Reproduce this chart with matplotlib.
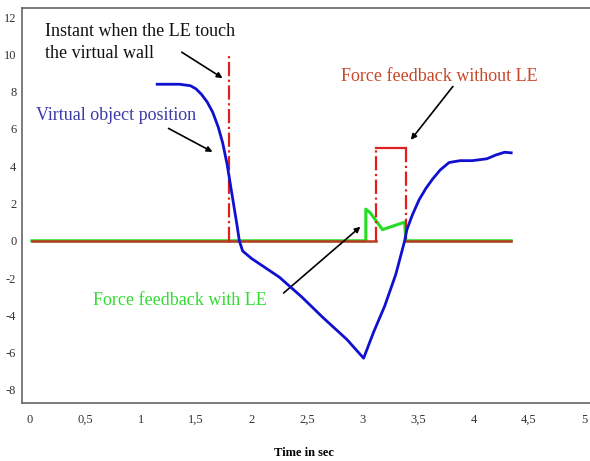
import matplotlib
matplotlib.use('Agg')
import matplotlib.pyplot as plt
from matplotlib.ticker import FuncFormatter

plt.rcParams['font.family'] = ['Liberation Serif', 'DejaVu Serif']
plt.rcParams['axes.unicode_minus'] = False

# virtual object position (blue)
pos_t = [1.15, 1.35, 1.45, 1.50, 1.55, 1.60, 1.65, 1.70, 1.74, 1.78, 1.81, 1.84,
         1.87, 1.89, 1.92, 2.00, 2.25, 2.45, 2.64, 2.86, 3.01, 3.10, 3.20, 3.30,
         3.38, 3.40, 3.45, 3.51, 3.57, 3.63, 3.70, 3.78, 3.88, 3.99, 4.12, 4.20,
         4.28, 4.34]
pos_y = [8.4, 8.4, 8.32, 8.15, 7.85, 7.45, 6.9, 6.1, 5.25, 4.1, 3.0, 1.9,
         0.8, 0.0, -0.55, -0.95, -1.95, -3.0, -4.1, -5.3, -6.3, -4.9, -3.5, -1.8,
         0.0, 0.6, 1.4, 2.2, 2.8, 3.3, 3.8, 4.2, 4.3, 4.3, 4.4, 4.6,
         4.75, 4.72]

# force feedback without LE (red)
red_t = [0.02, 1.80, 1.80, 1.80, 3.12, 3.12, 3.39, 3.39, 4.34]
red_y = [0, 0, 10, 0, 0, 5, 5, 0, 0]

# force feedback with LE (green)
green_t = [0.02, 3.03, 3.03, 3.07, 3.18, 3.38, 3.39, 4.34]
green_y = [0, 0, 1.7, 1.5, 0.6, 1.0, 0, 0]

x_ticks = [0, 0.5, 1, 1.5, 2, 2.5, 3, 3.5, 4, 4.5, 5]
y_ticks = [-8, -6, -4, -2, 0, 2, 4, 6, 8, 10, 12]

fig = plt.figure(figsize=(5.9, 4.61), dpi=100)
ax = fig.add_axes([0.037, 0.126, 0.963, 0.857])

red = '#e02020'
ax.plot(green_t, green_y, color='#22dd22', lw=2.2, zorder=2)
# red: horizontal parts solid, vertical parts dash-dot
ax.plot(red_t[:2], red_y[:2], color='#b83a20', lw=1.8, zorder=3)
ax.plot(red_t[1:3], red_y[1:3], color=red, lw=1.6, ls='-.', zorder=3)
ax.plot(red_t[3:5], red_y[3:5], color='#b83a20', lw=1.8, zorder=3)
ax.plot(red_t[4:6], red_y[4:6], color=red, lw=1.6, ls='-.', zorder=3)
ax.plot(red_t[5:7], red_y[5:7], color=red, lw=1.6, zorder=3)
ax.plot(red_t[6:8], red_y[6:8], color=red, lw=1.6, ls='-.', zorder=3)
ax.plot(red_t[7:], red_y[7:], color='#b83a20', lw=1.8, zorder=3)
ax.plot(pos_t, pos_y, color='#1010d0', lw=2, zorder=4)

ax.set_xlim(-0.07, 5.05)
ax.set_ylim(-8.7, 12.5)
ax.set_xticks(x_ticks)
ax.set_yticks(y_ticks)
ax.xaxis.set_major_formatter(FuncFormatter(lambda v, p: ('%g' % v).replace('.', ',')))
ax.tick_params(length=0, labelsize=9, colors='#333333')
ax.tick_params(axis='x', pad=8)
ax.tick_params(axis='y', pad=4)
for s in ['left', 'bottom', 'top']:
    ax.spines[s].set_color('#666666')
    ax.spines[s].set_linewidth(1.2)
ax.spines['right'].set_visible(False)

fig.text(0.515, 1 - 453 / 461, 'Time in sec', fontweight='bold', fontsize=9,
         ha='center', va='center')

arrow = dict(arrowstyle='-|>', color='black', lw=1.2, mutation_scale=8)
ax.text(0.135, 11.7, 'Instant when the LE touch\nthe virtual wall', fontsize=13,
        va='top', ha='left', color='#111111', linespacing=1.4)
ax.annotate('', xy=(1.76, 8.65), xytext=(1.35, 10.2), arrowprops=arrow)

ax.text(0.06, 6.7, 'Virtual object position', fontsize=13, color='#3a3aa8',
        va='center', ha='left')
ax.annotate('', xy=(1.67, 4.7), xytext=(1.23, 6.1), arrowprops=arrow)

ax.text(2.81, 8.8, 'Force feedback without LE', fontsize=13, color='#c8482a',
        va='center', ha='left')
ax.annotate('', xy=(3.42, 5.3), xytext=(3.83, 8.4), arrowprops=arrow)

ax.text(0.57, -3.2, 'Force feedback with LE', fontsize=13, color='#33dd33',
        va='center', ha='left')
ax.annotate('', xy=(3.0, 0.85), xytext=(2.27, -2.9), arrowprops=arrow)

fig.savefig('out.png', dpi=100)
